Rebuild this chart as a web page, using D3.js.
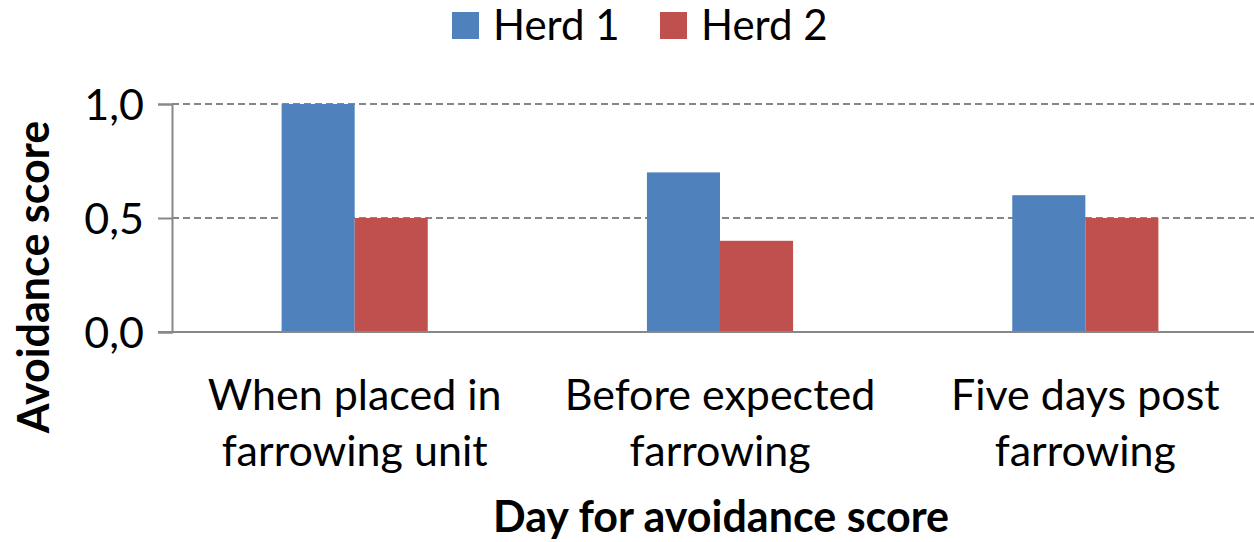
<!DOCTYPE html>
<html>
<head>
  <script src="https://d3js.org/d3.v7.min.js"></script>
  <style>
    body { margin: 0; background: #fff; }
    text { font-family: Lato, "Open Sans", sans-serif; fill: #000; }
  </style>
</head>
<body>
  <script>
    // data
    var categories = [["When placed in", "farrowing unit"], ["Before expected", "farrowing"], ["Five days post", "farrowing"]];
    var series = ["Herd 1", "Herd 2"];
    var herd1 = [1.0, 0.7, 0.6];
    var herd2 = [0.5, 0.4, 0.5];
    var yTicks = [0, 0.5, 1.0];
    var colors = ["#4F81BD", "#C0504D"];

    var width = 1254, height = 542;
    var plotLeft = 172, plotTop = 104, plotBottom = 332, plotRight = 1268;

    var svg = d3.select("body").append("svg")
      .attr("width", width)
      .attr("height", height);

    var x = d3.scaleBand()
      .domain(d3.range(categories.length))
      .range([plotLeft, plotRight])
      .paddingInner(0.6)
      .paddingOuter(0.3);

    var x1 = d3.scaleBand()
      .domain(series)
      .range([0, x.bandwidth()]);

    var y = d3.scaleLinear()
      .domain([0, 1])
      .range([plotBottom, plotTop]);

    // dashed gridlines
    svg.selectAll(".grid")
      .data(yTicks.filter(function(d) { return d > 0; }))
      .enter().append("line")
      .attr("x1", plotLeft).attr("x2", width)
      .attr("y1", function(d) { return y(d); })
      .attr("y2", function(d) { return y(d); })
      .attr("stroke", "#868686")
      .attr("stroke-width", 2)
      .attr("stroke-dasharray", "7,4");

    // bars
    var rows = categories.map(function(c, i) { return [herd1[i], herd2[i]]; });
    var groups = svg.selectAll(".grp")
      .data(rows)
      .enter().append("g")
      .attr("transform", function(d, i) { return "translate(" + x(i) + ",0)"; });

    groups.selectAll("rect")
      .data(function(d) { return d.map(function(v, k) { return { k: k, v: v }; }); })
      .enter().append("rect")
      .attr("x", function(d) { return x1(series[d.k]); })
      .attr("y", function(d) { return y(d.v); })
      .attr("width", x1.bandwidth())
      .attr("height", function(d) { return plotBottom - y(d.v); })
      .attr("fill", function(d) { return colors[d.k]; });

    // y axis
    var yAxis = svg.append("g")
      .attr("transform", "translate(" + plotLeft + ",0)")
      .call(d3.axisLeft(y).tickValues(yTicks).tickSize(14).tickPadding(14)
        .tickFormat(function(d) { return d3.format(".1f")(d).replace(".", ","); }));
    yAxis.select(".domain").attr("stroke", "#888").attr("stroke-width", 2);
    yAxis.selectAll(".tick line").attr("stroke", "#888").attr("stroke-width", 2);
    yAxis.selectAll(".tick text")
      .attr("font-size", 43)
      .attr("font-family", "Lato, sans-serif")
      .attr("fill", "#000")
      .attr("dy", "0.36em");

    // x axis baseline
    svg.append("line")
      .attr("x1", plotLeft - 14).attr("x2", width)
      .attr("y1", plotBottom).attr("y2", plotBottom)
      .attr("stroke", "#888").attr("stroke-width", 2);

    // category labels
    categories.forEach(function(lines, i) {
      var cx = x(i) + x.bandwidth() / 2;
      var t = svg.append("text")
        .attr("text-anchor", "middle")
        .attr("font-size", 43)
        .attr("x", cx)
        .attr("y", 410);
      lines.forEach(function(l, j) {
        t.append("tspan")
          .attr("x", cx)
          .attr("dy", j === 0 ? 0 : 56)
          .text(l);
      });
    });

    // axis titles
    svg.append("text")
      .attr("x", 721).attr("y", 532)
      .attr("text-anchor", "middle")
      .attr("font-size", 43)
      .attr("font-weight", "bold")
      .text("Day for avoidance score");

    svg.append("text")
      .attr("transform", "translate(49,277) rotate(-90)")
      .attr("text-anchor", "middle")
      .attr("font-size", 43)
      .attr("font-weight", "bold")
      .text("Avoidance score");

    // legend
    var legX = [452, 660];
    series.forEach(function(s, i) {
      svg.append("rect")
        .attr("x", legX[i]).attr("y", 12)
        .attr("width", 27).attr("height", 27)
        .attr("fill", colors[i]);
      svg.append("text")
        .attr("x", legX[i] + 41).attr("y", 40)
        .attr("font-size", 42)
        .text(s);
    });
  </script>
</body>
</html>
